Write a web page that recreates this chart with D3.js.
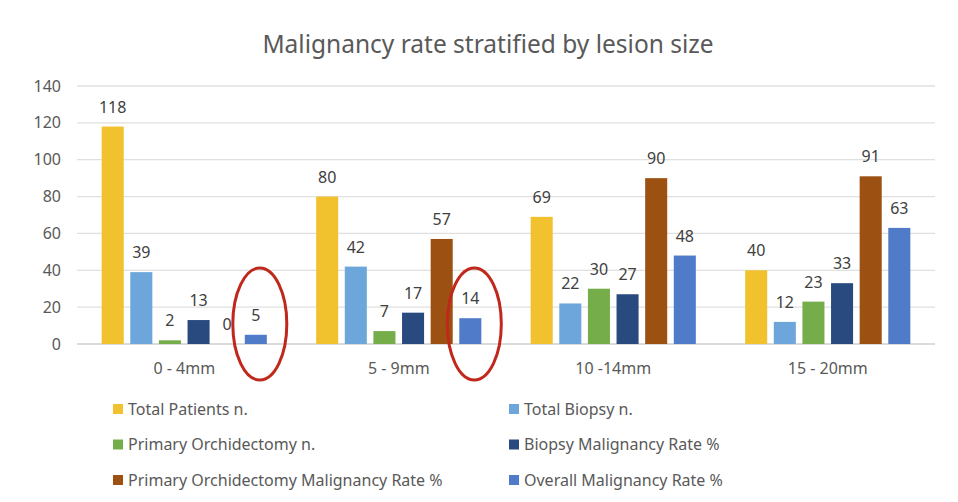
<!DOCTYPE html>
<html>
<head>
<meta charset="utf-8">
<script src="https://cdn.jsdelivr.net/npm/d3@7"></script>
<style>
  body { margin: 0; background: #fff; }
  text { font-family: "Noto Sans", "Open Sans", sans-serif; }
</style>
</head>
<body>
<script>
// chart data
var categories = ["0 - 4mm", "5 - 9mm", "10 -14mm", "15 - 20mm"];
var seriesNames = ["Total Patients n.", "Total Biopsy n.", "Primary Orchidectomy n.",
                   "Biopsy Malignancy Rate %", "Primary Orchidectomy Malignancy Rate %", "Overall Malignancy Rate %"];
var totalPatients = [118, 80, 69, 40];
var totalBiopsy = [39, 42, 22, 12];
var primaryOrch = [2, 7, 30, 23];
var biopsyMalig = [13, 17, 27, 33];
var orchMalig = [0, 57, 90, 91];
var overallMalig = [5, 14, 48, 63];
var yTicks = [0, 20, 40, 60, 80, 100, 120, 140];
var circled = ["0 - 4mm", "5 - 9mm"];

var seriesValues = [totalPatients, totalBiopsy, primaryOrch, biopsyMalig, orchMalig, overallMalig];
var colors = ["#f2c12e", "#6ca6da", "#75ad4a", "#284a7e", "#9c5012", "#4f7bc9"];

var W = 958, H = 502;
var margin = {left: 77, top: 86, right: 23, bottom: 158};
var frame_w = W - margin.left - margin.right;
var frame_h = H - margin.top - margin.bottom;

var svg = d3.select("body").append("svg")
    .attr("width", W)
    .attr("height", H);

svg.append("text")
    .attr("x", 488).attr("y", 53)
    .attr("text-anchor", "middle")
    .attr("fill", "#595959")
    .attr("font-size", 24.5)
    .text("Malignancy rate stratified by lesion size");

var g = svg.append("g").attr("transform", "translate(" + margin.left + "," + margin.top + ")");

var x0 = d3.scaleBand().domain(categories).range([0, frame_w]).paddingInner(0.23).paddingOuter(0.115);
var x1 = d3.scaleBand().domain(d3.range(seriesNames.length)).range([0, x0.bandwidth()]).paddingInner(0.23);
var y = d3.scaleLinear().domain([0, 140]).range([frame_h, 0]);

// grid
g.selectAll("line.grid").data(yTicks).enter().append("line")
    .attr("class", "grid")
    .attr("x1", 0).attr("x2", frame_w)
    .attr("y1", d => y(d)).attr("y2", d => y(d))
    .attr("stroke", d => d === 0 ? "#cfcfcf" : "#e0e0e0")
    .attr("stroke-width", 1.3);

g.selectAll("text.ytick").data(yTicks).enter().append("text")
    .attr("class", "ytick")
    .attr("x", -16).attr("y", d => y(d))
    .attr("dy", "0.35em")
    .attr("text-anchor", "end")
    .attr("fill", "#595959")
    .attr("font-size", 16)
    .text(d => d);

g.selectAll("text.xtick").data(categories).enter().append("text")
    .attr("class", "xtick")
    .attr("x", d => x0(d) + x0.bandwidth() / 2)
    .attr("y", frame_h + 30)
    .attr("text-anchor", "middle")
    .attr("fill", "#595959")
    .attr("font-size", 16)
    .text(d => d);

var groups = g.selectAll("g.grp").data(categories).enter().append("g")
    .attr("class", "grp")
    .attr("transform", d => "translate(" + x0(d) + ",0)");

groups.each(function(cat, ci) {
    var gg = d3.select(this);
    var rows = seriesValues.map(function(vals, si) { return {si: si, v: vals[ci]}; });
    gg.selectAll("rect").data(rows).enter().append("rect")
        .attr("x", d => x1(d.si))
        .attr("width", x1.bandwidth())
        .attr("y", d => y(d.v))
        .attr("height", d => y(0) - y(d.v))
        .attr("fill", d => colors[d.si]);
    gg.selectAll("text").data(rows).enter().append("text")
        .attr("x", d => x1(d.si) + x1.bandwidth() / 2)
        .attr("y", d => y(d.v) - 14)
        .attr("text-anchor", "middle")
        .attr("fill", "#404040")
        .attr("font-size", 16)
        .text(d => d.v);
});

// red annotation ellipses around the overall rate bars
g.selectAll("ellipse").data(circled).enter().append("ellipse")
    .attr("cx", d => x0(d) + x1(5) + x1.bandwidth() / 2 + 4)
    .attr("cy", y(0) - 20)
    .attr("rx", 27).attr("ry", 56)
    .attr("fill", "none")
    .attr("stroke", "#c0281c")
    .attr("stroke-width", 3);

// legend
var legend = svg.append("g");
var items = legend.selectAll("g").data(seriesNames).enter().append("g")
    .attr("transform", (d, i) => "translate(" + (i % 2 ? 509 : 113) + "," + (409 + Math.floor(i / 2) * 35.5) + ")");
items.append("rect")
    .attr("x", 0).attr("y", -5).attr("width", 10).attr("height", 10)
    .attr("fill", (d, i) => colors[i]);
items.append("text")
    .attr("x", 15).attr("dy", "0.35em")
    .attr("fill", "#595959")
    .attr("font-size", 16)
    .text(d => d);
</script>
</body>
</html>
